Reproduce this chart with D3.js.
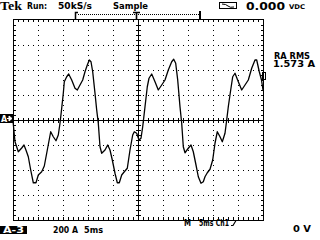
<!DOCTYPE html>
<html>
<head>
<meta charset='utf-8'>
<title>Scope capture</title>
<script src='https://cdn.jsdelivr.net/npm/d3@7/dist/d3.min.js'></script>
<style>
body { margin: 0; background: #fff; }
text { font-family: 'DejaVu Sans', sans-serif; font-weight: bold; fill: #000; }
</style>
</head>
<body>
<svg width='320' height='240'></svg>
<script>

// trace: time in ms, current in A (200 A/div)
const timeMs = [0, 0.4, 1.06, 1.74, 2.2, 2.66, 3.06, 3.54, 4.06, 4.6, 5.06, 5.74, 6.26, 6.86, 7.54, 8.06, 8.6, 9.06, 9.4, 9.74,
  10.06, 10.26, 10.74, 11.14, 11.74, 12.4, 12.86, 13.4, 13.94, 14.4, 14.86, 15.26, 15.6, 15.94, 16.4, 16.74, 17.06, 17.4, 17.74,
  18.4, 18.94, 19.4, 19.86, 20.4, 20.86, 21.26, 21.74, 22.26, 22.86, 23.4, 23.94, 24.26, 24.74, 25.2, 25.6, 25.94, 26.4, 26.86,
  27.2, 27.74, 28.4, 29.06, 29.74, 30.4, 31.06, 31.74, 32.14, 32.54, 32.94, 33.4, 33.74, 34.06, 34.4, 35.06, 35.6, 36.06, 36.6,
  37.06, 37.6, 38.06, 38.4, 38.86, 39.4, 39.94, 40.4, 40.86, 41.4, 41.86, 42.4, 42.74, 43.06, 43.54, 43.94, 44.4, 45.06, 45.74,
  46.4, 47.06, 47.74, 48.4, 48.74, 49.26, 49.7, 50]
const currentA = [-8, -174, -254, -224, -200, -248, -294, -400, -502, -502, -440, -414, -368, -240, -94, -134, -166, -120, -26, 94,
  214, 306, 346, 368, 320, 254, 240, 280, 320, 386, 440, 480, 466, 386, 214, 80, -26, -214, -266,
  -240, -200, -240, -320, -426, -502, -502, -440, -414, -386, -240, -120, -94, -106, -160, -146, -54, 106, 266,
  334, 368, 306, 240, 280, 320, 400, 466, 486, 454, 320, 106, -26, -214, -262, -226, -200, -254, -360,
  -454, -506, -494, -454, -422, -394, -320, -186, -94, -134, -174, -106, 0, 106, 240, 346, 374, 306, 240,
  280, 320, 414, 480, 480, 386, 320, 240]

const topWords = ['Run:', '50kS/s', 'Sample']
const bottomWords = ['200 A', '5ms']
const timebaseWords = ['M', '5ms Ch1']
const readout = ['RA RMS', '1.573 A']

const svg = d3.select('svg')

const x = d3.scaleLinear().domain([0, 50]).range([13, 263])
const y = d3.scaleLinear().domain([-800, 800]).range([220, 20])

// helper: text squeezed to the width it has on the screen
function label(g, s, px, py, w, size) {
  return g.append('text').attr('x', px).attr('y', py)
    .attr('textLength', w).attr('lengthAdjust', 'spacingAndGlyphs')
    .style('font-size', size + 'px').text(s)
}

const grid = svg.append('g').attr('shape-rendering', 'crispEdges').attr('stroke', '#000')

// dotted division lines
const xDiv = d3.range(5, 50, 5)
const yDiv = d3.range(-600, 800, 200)
grid.selectAll('.vd').data(xDiv.filter(d => d !== 25)).enter().append('line')
  .attr('x1', d => x(d) + 0.5).attr('x2', d => x(d) + 0.5)
  .attr('y1', 20).attr('y2', 220)
  .attr('stroke-dasharray', '1 4')
grid.selectAll('.hd').data(yDiv.filter(d => d !== 0)).enter().append('line')
  .attr('y1', d => y(d) + 0.5).attr('y2', d => y(d) + 0.5)
  .attr('x1', 13).attr('x2', 263)
  .attr('stroke-dasharray', '1 4')

// frame and centre cross
grid.append('rect').attr('x', 13.5).attr('y', 19.5).attr('width', 250).attr('height', 200.5).attr('fill', 'none')
grid.append('line').attr('x1', x(25) + 0.5).attr('x2', x(25) + 0.5).attr('y1', 20).attr('y2', 220)
grid.append('line').attr('y1', y(0) + 0.5).attr('y2', y(0) + 0.5).attr('x1', 13).attr('x2', 263)

// minor ticks, 5 per division
const xMinor = d3.range(1, 50, 1)
const yMinor = d3.range(-760, 800, 40)
grid.selectAll('.tt').data(xMinor).enter().append('line')
  .attr('x1', d => x(d) + 0.5).attr('x2', d => x(d) + 0.5).attr('y1', 20).attr('y2', 22)
grid.selectAll('.tb').data(xMinor).enter().append('line')
  .attr('x1', d => x(d) + 0.5).attr('x2', d => x(d) + 0.5).attr('y1', 217).attr('y2', 220)
grid.selectAll('.tc').data(xMinor).enter().append('line')
  .attr('x1', d => x(d) + 0.5).attr('x2', d => x(d) + 0.5).attr('y1', y(0) - 2).attr('y2', y(0) + 3)
grid.selectAll('.tl').data(yMinor).enter().append('line')
  .attr('y1', d => y(d) + 0.5).attr('y2', d => y(d) + 0.5).attr('x1', 13).attr('x2', 16)
grid.selectAll('.tr').data(yMinor).enter().append('line')
  .attr('y1', d => y(d) + 0.5).attr('y2', d => y(d) + 0.5).attr('x1', 261).attr('x2', 263)
grid.selectAll('.tm').data(yMinor).enter().append('line')
  .attr('y1', d => y(d) + 0.5).attr('y2', d => y(d) + 0.5).attr('x1', x(25) - 2).attr('x2', x(25) + 3)

// waveform
const line = d3.line().x((d, i) => x(timeMs[i])).y(d => y(d))
svg.append('path').datum(currentA)
  .attr('d', line)
  .attr('fill', 'none').attr('stroke', '#000').attr('stroke-width', 1.3)
  .attr('stroke-linejoin', 'round')

// header
svg.append('text').attr('x', 0).attr('y', 10).style('font-family', "'Liberation Serif', serif")
  .attr('textLength', 22).attr('lengthAdjust', 'spacingAndGlyphs')
  .style('font-size', '12px').text('Tek')
const topX = [27, 58, 113], topW = [20, 34, 35]
topWords.forEach((s, i) => label(svg, s, topX[i], 9, topW[i], 8.5))

// record bar
svg.append('path').attr('d', 'M78,12.5H75.5V19').attr('fill', 'none').attr('stroke', '#000').attr('stroke-width', 1.5)
svg.append('line').attr('x1', 78).attr('x2', 199).attr('y1', 14.5).attr('y2', 14.5)
  .attr('stroke', '#000').attr('stroke-dasharray', '1 1').attr('shape-rendering', 'crispEdges')
svg.append('path').attr('d', 'M133,12.5H140M136.5,12.5V19').attr('stroke', '#000').attr('stroke-width', 1.6)
svg.append('rect').attr('x', 199).attr('y', 11).attr('width', 2).attr('height', 8)

// acquisition icon + level
svg.append('rect').attr('x', 219.5).attr('y', 2.5).attr('width', 17).attr('height', 6)
  .attr('fill', 'none').attr('stroke', '#000')
svg.append('path').attr('d', 'M222,4 Q226,4 228,6 T234,7').attr('fill', 'none').attr('stroke', '#000')
label(svg, '0.000', 246, 10, 39, 11)
label(svg, 'VDC', 289, 9, 16, 6.5)

// measurement readout
const roX = [274, 273], roW = [36, 42]
readout.forEach((s, i) => label(svg, s, roX[i], 59 + i * 8, roW[i], 8))

// trigger level marker on right edge
svg.append('rect').attr('x', 262.5).attr('y', 72.5).attr('width', 2.5).attr('height', 7)
  .attr('fill', 'none').attr('stroke', '#000').attr('shape-rendering', 'crispEdges')

// channel ground marker
svg.append('rect').attr('x', 0).attr('y', 114).attr('width', 13).attr('height', 9)
svg.append('text').attr('x', 1).attr('y', 122).style('font-size', '8px').style('fill', '#fff').text('A')
svg.append('path').attr('d', 'M7,118.5H10M9,116L12,118.5L9,121Z').attr('stroke', '#fff').attr('fill', '#fff')

// footer
svg.append('rect').attr('x', 0).attr('y', 226).attr('width', 27).attr('height', 8)
label(svg, 'A-3', 3, 233, 21, 8.5).style('fill', '#fff')
const bottomX = [53, 84], bottomW = [25, 19]
bottomWords.forEach((s, i) => label(svg, s, bottomX[i], 233, bottomW[i], 8.5))
const tbX = [184, 199], tbW = [7, 30]
timebaseWords.forEach((s, i) => label(svg, s, tbX[i], 226, tbW[i], 8.5))
svg.append('path').attr('d', 'M231,225.5H233L236,220.5H238').attr('fill', 'none').attr('stroke', '#000').attr('stroke-width', 1.2)
label(svg, '0 V', 293, 232, 18, 8.5)

</script>
</body>
</html>
